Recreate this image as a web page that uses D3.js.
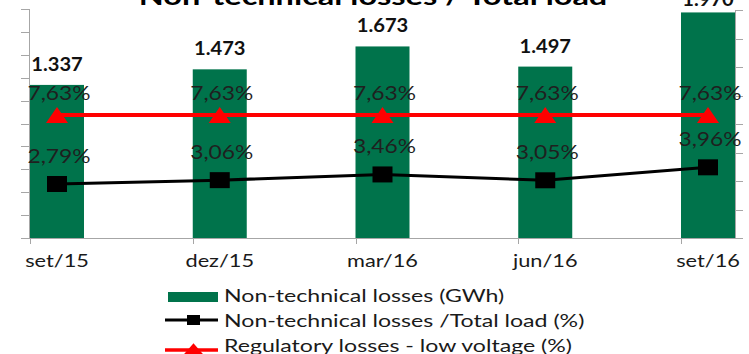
<!DOCTYPE html>
<html>
<head>
<meta charset="utf-8">
<script src="https://cdn.jsdelivr.net/npm/d3@7"></script>
<style>
  html, body { margin: 0; padding: 0; background: #fff; }
  svg { display: block; }
  text { font-family: Lato, "Open Sans", sans-serif; }
</style>
</head>
<body>
<svg id="chart" width="749" height="354"></svg>
<script>
// Quarterly non-technical losses
const categories = ["set/15", "dez/15", "mar/16", "jun/16", "set/16"];
const lossesGWh = [1337, 1473, 1673, 1497, 1970];
const lossesShare = [2.79, 3.06, 3.46, 3.05, 3.96];
const regulatoryShare = [7.63, 7.63, 7.63, 7.63, 7.63];
const leftTicks = [0, 200, 400, 600, 800, 1000, 1200, 1400, 1600, 1800, 2000];
const rightTicks = [-1, 1, 3, 5, 7, 9, 11, 13, 15];
const seriesNames = [
  "Non-technical losses (GWh)",
  "Non-technical losses /Total load (%)",
  "Regulatory losses - low voltage (%)"
];
const titleText = "Non-technical losses / Total load";

const ptBR = d3.formatLocale({ decimal: ",", thousands: ".", grouping: [3], currency: ["R$", ""] });
const fmtGWh = ptBR.format(",.0f");
const fmtPct = v => ptBR.format(".2f")(v) + "%";

const GREEN = "#00734b", RED = "#ff0000", BLACK = "#000000", AXIS = "#a6a6a6";
const SX = 1.32; // horizontal text stretch of the layout

const svg = d3.select("#chart");

const x = d3.scalePoint().domain(categories).range([57, 708]);
const yL = d3.scaleLinear().domain([0, 2000]).range([238, 9]);
const yR = d3.scaleLinear().domain([-1, 15]).range([238, 10]);
const barW = 54;
const plotLeft = 29, plotRight = 735;

function stretchedText(g, tx, ty, str, o) {
  return g.append("text")
    .attr("transform", `translate(${tx},${ty}) scale(${o.sx || SX},1)`)
    .attr("text-anchor", o.anchor || "middle")
    .attr("font-size", o.size)
    .attr("font-weight", o.weight || "normal")
    .attr("font-family", o.family || null)
    .attr("fill", o.fill || "#000")
    .text(str);
}

// Value axes (left: GWh, right: %)
const axes = svg.append("g").attr("stroke", AXIS).attr("stroke-width", 1).attr("fill", "none");
axes.append("line").attr("x1", plotLeft + 0.5).attr("x2", plotLeft + 0.5).attr("y1", yL(2000)).attr("y2", yL(0));
axes.selectAll(".lt").data(leftTicks).join("line")
  .attr("x1", plotLeft - 8).attr("x2", plotLeft + 0.5)
  .attr("y1", d => Math.round(yL(d)) + 0.5).attr("y2", d => Math.round(yL(d)) + 0.5);
axes.append("line").attr("x1", plotRight + 0.5).attr("x2", plotRight + 0.5).attr("y1", yR(15)).attr("y2", yR(-1));
axes.selectAll(".rt").data(rightTicks).join("line")
  .attr("x1", plotRight).attr("x2", plotRight + 8)
  .attr("y1", d => Math.round(yR(d)) + 0.5).attr("y2", d => Math.round(yR(d)) + 0.5);

// Bars
svg.append("g").selectAll("rect").data(lossesGWh).join("rect")
  .attr("x", (d, i) => x(categories[i]) - barW / 2)
  .attr("width", barW)
  .attr("y", d => yL(d))
  .attr("height", d => yL(0) - yL(d))
  .attr("fill", GREEN);

// Category axis
axes.append("line").attr("x1", plotLeft).attr("x2", plotRight + 1)
  .attr("y1", yL(0) + 0.5).attr("y2", yL(0) + 0.5);
axes.selectAll(".ct").data(categories).join("line")
  .attr("x1", d => Math.round(x(d) - barW / 2) + 0.5).attr("x2", d => Math.round(x(d) - barW / 2) + 0.5)
  .attr("y1", yL(0)).attr("y2", yL(0) + 6);
const catLab = svg.append("g");
categories.forEach(c => stretchedText(catLab, x(c), 267, c, { size: 16.5, fill: "#1a1a1a" }));

// Bar value labels
const barLab = svg.append("g");
lossesGWh.forEach((v, i) => stretchedText(barLab, x(categories[i]), Math.max(yL(v) - 14, 6), fmtGWh(v),
  { size: 18, weight: "bold", fill: "#111", sx: 1.12, family: "DejaVu Sans" }));

// Lines
const lineGen = (arr, scale) => d3.line().x((d, i) => x(categories[i])).y(d => scale(d))(arr);
svg.append("path").attr("d", lineGen(regulatoryShare, yR)).attr("fill", "none").attr("stroke", RED).attr("stroke-width", 4);
svg.append("path").attr("d", lineGen(lossesShare, yR)).attr("fill", "none").attr("stroke", BLACK).attr("stroke-width", 3);

const squareSym = d3.symbol().type(d3.symbolSquare).size(256)();
const triSize = 148;
const triSym = d3.symbol().type(d3.symbolTriangle).size(triSize)();
const triOffset = Math.sqrt(triSize / (3 * Math.sqrt(3))) / 2;

svg.append("g").selectAll("path").data(regulatoryShare).join("path")
  .attr("d", triSym).attr("fill", RED)
  .attr("transform", (d, i) => `translate(${x(categories[i])},${yR(d) + triOffset}) scale(1.19,1)`);
svg.append("g").selectAll("path").data(lossesShare).join("path")
  .attr("d", squareSym).attr("fill", BLACK)
  .attr("transform", (d, i) => `translate(${x(categories[i])},${yR(d)}) scale(1.25,1)`);

// Percentage labels
const pctLab = svg.append("g");
regulatoryShare.forEach((v, i) => stretchedText(pctLab, x(categories[i]) + 2, yR(v) - 15, fmtPct(v),
  { size: 19, fill: "#1f1f1f", sx: 1.2 }));
lossesShare.forEach((v, i) => stretchedText(pctLab, x(categories[i]) + 2, yR(v) - 21, fmtPct(v),
  { size: 19, fill: "#1f1f1f", sx: 1.2 }));

// Title
stretchedText(svg, 373, 5, titleText, { size: 25, weight: "bold", fill: "#000", sx: 1.3 });

// Legend
const lg = svg.append("g");
lg.append("rect").attr("x", 168).attr("y", 292).attr("width", 50).attr("height", 10).attr("fill", GREEN);
lg.append("line").attr("x1", 165).attr("x2", 218).attr("y1", 320).attr("y2", 320).attr("stroke", BLACK).attr("stroke-width", 3);
lg.append("path").attr("d", d3.symbol().type(d3.symbolSquare).size(100)()).attr("fill", BLACK)
  .attr("transform", "translate(193.5,320) scale(1.3,1)");
lg.append("line").attr("x1", 165).attr("x2", 218).attr("y1", 350).attr("y2", 350).attr("stroke", RED).attr("stroke-width", 3.5);
lg.append("path").attr("d", d3.symbol().type(d3.symbolTriangle).size(80)()).attr("fill", RED)
  .attr("transform", "translate(193.5,351) scale(1.5,1)");
seriesNames.forEach((s, i) => stretchedText(lg, 224, 302 + i * 25, s, { size: 17, anchor: "start", fill: "#1a1a1a", sx: 1.36 }));
</script>
</body>
</html>
